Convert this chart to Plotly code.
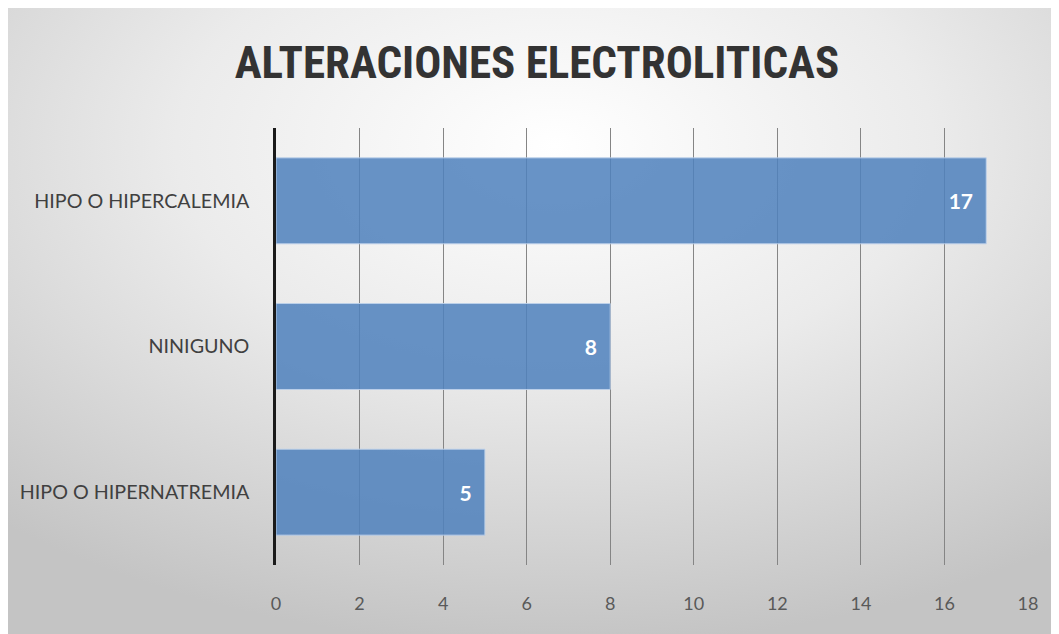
import base64
import plotly.graph_objects as go

categories = ["HIPO O HIPERCALEMIA", "NINIGUNO", "HIPO O HIPERNATREMIA"]
values = [17, 8, 5]
tick_vals = [0, 2, 4, 6, 8, 10, 12, 14, 16, 18]

# page body has an 8px margin, so the figure is sized to the visible area
FW, FH = 1051, 626
L, R, T, B = 268, 31, 120, 69
W = FW - L - R
H = FH - T - B

svg = f"""<svg xmlns='http://www.w3.org/2000/svg' width='{FW}' height='{FH}' viewBox='0 0 {FW} {FH}'>
<defs><radialGradient id='g' cx='0.52' cy='0.22' r='0.8' fx='0.52' fy='0.22'>
<stop offset='0' stop-color='#ffffff'/><stop offset='0.45' stop-color='#ebebeb'/><stop offset='1' stop-color='#c4c4c4'/>
</radialGradient></defs>
<rect x='0' y='0' width='{FW}' height='{FH}' fill='url(#g)'/></svg>"""
src = "data:image/svg+xml;base64," + base64.b64encode(svg.encode()).decode()

fig = go.Figure(go.Bar(
    x=values, y=categories, orientation="h",
    marker=dict(color="rgba(79,129,189,0.86)", line=dict(color="rgba(190,210,235,0.9)", width=1)),
    text=values, texttemplate="%{x}\u00a0\u00a0", textposition="inside", insidetextanchor="end",
    textfont=dict(family="Lato, Open Sans, sans-serif", size=21, color="white", weight="bold"),
    cliponaxis=False,
))

fig.update_layout(
    width=FW, height=FH,
    margin=dict(l=L, r=R, t=T, b=B, autoexpand=False),
    paper_bgcolor="white", plot_bgcolor="rgba(0,0,0,0)",
    bargap=0.41, showlegend=False,
    title=dict(text="<b>ALTERACIONES ELECTROLITICAS</b>", x=529 / FW, xanchor="center",
               y=1 - 54 / FH, yanchor="middle", yref="container",
               font=dict(family="Roboto Condensed, Liberation Sans Narrow, sans-serif", size=45, color="#333333")),
    images=[dict(source=src, xref="paper", yref="paper",
                 x=-L / W, y=(FH - B) / H, sizex=FW / W, sizey=FH / H,
                 xanchor="left", yanchor="top", sizing="stretch", layer="below")],
    xaxis=dict(range=[0, 18], tickvals=tick_vals, showgrid=True, gridcolor="#858585", gridwidth=1,
               zeroline=False, showline=False, ticks="", ticklabelstandoff=26,
               tickfont=dict(family="Lato, Open Sans, sans-serif", size=18, color="#595959"), fixedrange=True),
    yaxis=dict(autorange="reversed", showline=True, linecolor="#1a1a1a", linewidth=2.5, ticks="",
               ticklabelstandoff=20, showgrid=False,
               tickfont=dict(family="Lato, Open Sans, sans-serif", size=19.7, color="#404040")),
)

fig.write_html("out.html")
